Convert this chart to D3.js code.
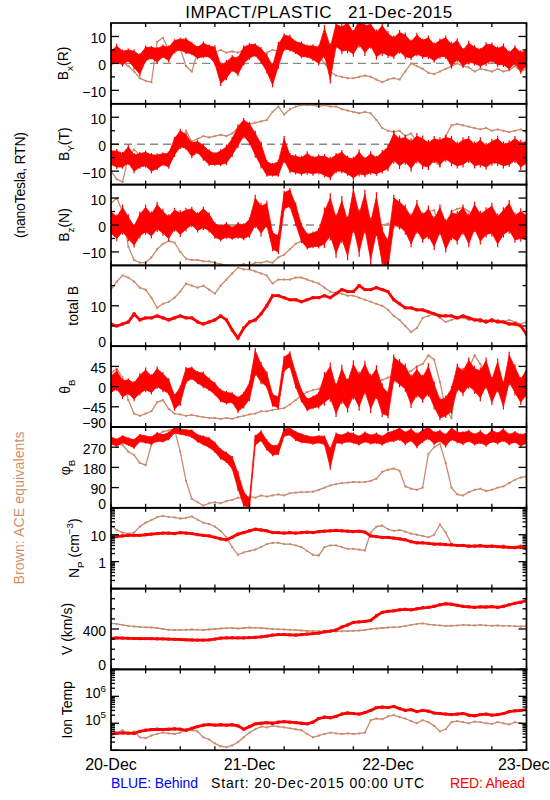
<!DOCTYPE html>
<html><head><meta charset="utf-8">
<script src="https://cdn.jsdelivr.net/npm/d3@7"></script>
<style>
body{margin:0;background:#fff}
svg{display:block}
text{font-family:"Liberation Sans",Arial,Helvetica,sans-serif;fill:#000}
</style>
</head><body>
<svg id="chart" width="550" height="800"></svg>
<script>
// ---------------- DATA (hourly samples, 20-Dec-2015 00:00 UTC .. 23-Dec-2015 00:00 UTC) ----------------
const startTime = "2015-12-20T00:00:00Z";
const hourOffsets = d3.range(0, 73);          // sample times, hours after start
const xTickHours = d3.range(0, 73, 6);         // 6-hour ticks
const dayLabels = ["20-Dec", "21-Dec", "22-Dec", "23-Dec"];

// Bx (R), nT  (Ahead: hourly centre value and half-spread of the scatter band)
const bxAhead = [2,3.5,2,3,1.5,-0.5,3.5,4,3,4.5, 3.5,6.5,7,6.5,5.5,4,5,4.5,3,-4, -2.5,0,-1,3,4.5,5,3,0,-4.5,3, 8,7.5,6,5,4.5,4,3,8,0,10.5, 9,10,7.5,11.5,9,10.5,7,9,7,6, 8,6.5,5,7,5.5,6,4,5.5,6,3, 5,2,4,3,2,3.5,4,2.5,3,1, 3,0.5,2];
const bxAheadSpread = [2.5,3,2.5,2,3,3.5,2.5,2,2.5,2, 2.5,2,2,2.5,2,2,2.5,2,3,3.5, 3,2.5,3,3,2.5,2,2.5,3,3.5,4, 2.5,2.5,2,2.5,2,2.5,3,5,6,4, 4.5,5,4,4.5,5,4,4.5,5,4,3.5, 3.5,4,3,3.5,3,3.5,3,3,3.5,4, 3.5,3,3.5,3,3,3.5,3,3,3.5,3, 3,3.5,3];
const bxAce   = [3,1.5,0.5,-1,-3,-5.5,-6.5,-7,8,9.5, 5,4,5.5,-1,-3,4,5,4.5,4,5, 4,4.5,4,5,4,3.5,3,4,5,4.5, 5,5.5,5,5,4.5,4,3,0,-3,-4.5, -5,-5.5,-5.5,-5,-4.5,-5,-6,-7,-6,-5.5, -6,-3,0,-1,-2,-3.5,-4,-3,-2,-1, 0,-1,-1.5,-3,-2,-2.5,-3,-2,-3,-2.5, -1,-3,-2];
// By (T), nT
const byAhead = [-5,-5.5,-6,-4,-7,-6,-5.5,-7,-6.5,-5.5, -6,-1,2,1,-2,-1,-3,-5,-5.5,-5, -4,-1,3,6,4,0,-4,-9,-9.5,-9, -2,-7,-7.5,-8,-7,-8,-7.5,-8,-9,-7, -6.5,-8,-9,-7,-8.5,-7,-8,-6.5,-5,-1, -3,-2,-4,-1.5,-3,-4,-2,-3,-1.5,-2.5, -4,-3,-2,-4,-3,-4.5,-3,-2.5,-4,-3.5, -2,-4,-3];
const byAheadSpread = [2.5,3,2.5,3,3,2.5,2.5,3,2.5,2, 2.5,3,3,2.5,2.5,2,2.5,2.5,2,2.5, 3,3,3.5,3,3.5,4,4,2.5,2,2.5, 4,3,3,3,3.5,3,3,3.5,3.5,3, 3.5,3,3.5,4,3,3.5,3,3.5,4,5, 5,4.5,5,4.5,5,4.5,4,4.5,4,4.5, 4,4.5,4,4,4.5,4,4,4.5,4,4, 4,4.5,4];
const byAce   = [-10,-13,-14,-5,-2,-4,-4.5,-4,-5,-4.5, -3,0,1,5,1,2,3,2.5,3,3.5, 3,4,6,7,7.5,8,8.5,9,12,14, 11,13,14,14.5,14.5,14.5,14,14.5,14,14, 13,12.5,12,11.5,12,11.5,9,6,5,4.5, 5,3,4,1,-2,-5,-6.5,-8,3,7, 7.5,7,6.5,6,5.5,6,5,5.5,5,4.5, 5,5.5,4.5];
// Bz (N), nT
const bzAhead = [1,-1,2,-1,-4,0,2,0,3,1, -1,2,0.5,2,3,1,2.5,1,-2,-3, -2,-3,-2,-2.5,-1,5,2,4,-6,-7, 9,10,4,-3,-6,-5.5,-5,-1,3,-4, 2,-5,6,-3,5,-6,4,-8,-11,5, 4,2,-2,3,-1,1,-3,2,-4,0, -1,2,-2,3,-1,1,2,-2,1,3, -1,0,-1];
const bzAheadSpread = [4,4,4.5,4,3.5,4,4.5,4,4.5,4, 4,3.5,4,3.5,3,3,3.5,3,2.5,2.5, 2.5,2,2.5,2.5,3,5,5,4,3,3, 3,3,3.5,3,2.5,2.5,3,6,7,6.5, 7,6.5,7,7,6.5,7,6.5,6,5,5, 4.5,4.5,5,5,4.5,5,5,4.5,5,4.5, 5,4.5,5,4.5,5,4.5,5,5,4.5,5, 4.5,5,4.5];
const bzAce   = [8,10,5,-8,-13,-14,-14,-12,-9,-7, -6,-6.5,-10,-12.5,-13,-13,-13.5,-13.5,-14,-14.5, -15,-15,-15,-14.5,-15,-14,-14,-13.5,-14,-12, -11,-9,-7,-6,-5,-5,-4,-3,-2.5,-2, -1,0,0.5,1,0,0.5,1,0,0.5,0, -1,1,0,2,4,5,5.5,-2,-6,5, 6,6.5,5,3,2,1,0.5,1,2,0, 1,-1,0];
// total B, nT
const btAhead = [5.5,5,5.5,6,8,6.5,7,7,7.5,7, 6.5,7,7.5,7,7,6,5.5,6,6.5,7.5, 6.5,4,2,4.5,6,6.5,8,10,12.5,12.5, 12,11.5,11.5,11,11.5,12,12,12.5,12,13, 14,13.5,13.5,15,14,14,14.5,14,13.5,11.5, 10.5,9.5,9.5,9,9,8.5,8,7.5,7.5,7.5, 7,7.5,7,6.5,6.5,6,6.5,6,6,5.5, 5.5,5,3];
const btAce   = [14,16,17.5,17,16,14.5,14,12,9.5,10.5, 11,12,13.5,15.5,15,14.5,15,14,13,15, 16.5,18,19.5,19,19,18.5,18,17.5,15.5,16.5, 16.5,16.5,17,17,16.5,16,15.5,14.5,13.5,13, 13,12.5,12.5,12,11.5,11,10.5,10,9,7.5, 6.5,5,3.5,4.5,7,7.5,8,7,6,6.5, 7,7,6.5,6.5,6,6.5,6,6.5,6,6.5, 6,5.5,6];
// theta_B, deg
const thAhead = [5,15,-5,0,-10,5,15,5,20,10, 0,-35,-20,25,30,20,15,5,-5,-20, -25,-25,-40,-30,-10,55,30,15,-30,-35, 50,60,15,-20,-40,-35,-30,-5,10,-30, 5,-20,15,-10,20,-15,10,-30,-40,40, 30,20,-10,10,-5,15,-20,-50,-45,-30, 20,10,30,15,5,30,-10,25,-20,40, 15,-10,10];
const thAheadSpread = [18,20,18,15,18,20,22,18,20,18, 15,15,18,15,12,12,15,12,12,12, 12,10,15,15,18,25,20,15,12,12, 15,15,15,12,12,12,15,30,35,30, 35,30,35,35,30,35,30,30,25,25, 25,25,30,28,25,30,25,20,20,25, 25,25,28,25,30,28,25,30,25,30, 28,25,28];
const thAce   = [30,40,20,-30,-60,-65,-60,-55,-35,-30, -50,-60,-62,-65,-63,-66,-68,-70,-70,-72, -70,-72,-68,-65,-62,-60,-55,-55,-52,-50, -48,-40,-30,-20,-12,-8,-5,0,2,0, 5,8,10,8,10,12,10,15,20,25, 22,30,35,45,50,70,60,10,-50,-70, 20,25,40,70,50,20,15,10,5,10, 0,5,10];
// phi_B, deg
const phAhead = [300,290,305,295,285,310,305,300,315,310, 320,345,340,335,330,310,300,290,270,240, 225,200,120,40,20,300,320,280,255,260, 335,340,320,310,305,300,305,300,220,310, 305,315,310,300,315,305,310,300,315,320, 330,310,325,300,320,335,310,320,300,330, 315,310,320,305,315,300,320,310,325,305, 315,300,310];
const phAheadSpread = [15,15,15,15,18,15,15,15,18,15, 15,12,12,12,15,15,18,20,20,20, 20,25,35,30,20,20,20,20,20,20, 15,15,18,18,15,15,15,18,40,20, 18,20,20,18,20,18,20,18,20,22, 25,25,25,28,25,25,25,22,25,25, 22,25,22,22,25,22,25,22,25,22, 22,25,22];
const phAce   = [290,285,280,250,235,200,190,280,320,340, 345,350,250,120,40,25,10,20,25,20, 30,35,45,40,50,45,55,50,55,60, 55,65,68,70,70,72,80,90,100,105, 110,112,115,114,115,120,130,160,170,175, 165,95,85,80,90,240,270,285,200,90, 60,55,70,80,85,75,80,90,95,110, 125,135,140];
// Np, cm^-3
const npAhead = [7.8,8.5,9,9.5,9.5,9.5,10,10.5,11,11.5, 11.5,11,12,11.5,11,10,9.5,9,8,7, 6.5,8,10.5,12,14,16,15,14,12,12, 11.5,12,11.5,12,12.5,12,13,13.5,14,14.5, 14,13.5,13,13.5,12.5,9,8.5,8,8,7.5, 7,6.5,5.5,5,5,4.8,4.5,4.5,4.3,4.2, 4,4,3.8,3.8,3.9,3.7,3.8,3.6,3.5,3.4, 3.3,3.5,3.2];
const npAce   = [22,15,12,11,12,20,28,35,45,50, 46,44,40,42,48,36,28,25,20,14, 8,3.5,1.8,2.2,2.5,2.8,3.5,4.5,5,5, 4.5,4.5,4,3.5,2.5,1.8,1.7,3.5,4,4, 3.5,3,3,2.8,2.6,12,20,22,16,14, 15,13,11,10,9,8,10,24,12,4.5, 4,3.8,3.5,3.6,4,3.8,3.5,3.7,4,3.5, 3.6,4,3.5];
// V, km/s
const vAhead = [308,312,310,308,306,305,305,304,303,302, 300,298,296,293,291,290,290,292,300,310, 312,313,312,312,315,318,322,330,340,345, 345,342,340,345,350,355,360,372,380,390, 420,440,465,470,475,485,530,565,575,580, 590,595,590,600,610,615,625,640,650,645, 635,625,620,615,620,618,622,615,625,640, 655,665,680];
const vAce   = [455,450,440,430,425,420,418,415,410,400, 392,390,390,392,395,392,390,395,400,405, 408,410,405,410,415,412,410,405,400,398, 395,392,390,385,380,380,378,378,377,376, 378,380,382,385,390,400,405,410,415,418, 420,430,440,450,455,445,440,435,430,432, 435,440,438,435,440,435,432,435,430,430, 428,425,430];
// Ion temperature, K
const tpAhead = [4.0e4,4.2e4,4.4e4,4.3e4,4.2e4,5.0e4,5.5e4,5.8e4,6.0e4,5.8e4, 6.0e4,6.2e4,6.0e4,5.5e4,6.5e4,7.5e4,8.5e4,9.0e4,8.5e4,8.8e4, 8.5e4,8.8e4,8.0e4,6.0e4,7.5e4,9.5e4,1.0e5,1.05e5,1.0e5,1.1e5, 1.15e5,1.1e5,1.05e5,1.0e5,9.5e4,1.1e5,1.5e5,1.7e5,1.6e5,1.8e5, 2.2e5,2.4e5,2.3e5,2.2e5,2.5e5,3.0e5,3.8e5,4.0e5,3.8e5,4.2e5, 3.5e5,3.0e5,3.2e5,2.7e5,3.0e5,2.8e5,2.4e5,2.3e5,2.2e5,2.1e5, 2.2e5,2.3e5,2.0e5,1.9e5,2.1e5,2.2e5,2.0e5,2.1e5,2.3e5,2.7e5, 2.9e5,3.0e5,3.2e5];
const tpAce   = [6.0e4,4.5e4,5.5e4,4.0e4,5.0e4,3.0e4,2.8e4,3.5e4,4.0e4,4.5e4, 4.2e4,4.0e4,4.5e4,6.0e4,5.5e4,5.0e4,3.0e4,2.5e4,1.8e4,1.4e4, 1.3e4,1.5e4,2.0e4,3.0e4,4.5e4,6.0e4,7.5e4,7.0e4,8.0e4,7.5e4, 7.0e4,6.5e4,6.0e4,5.5e4,4.0e4,3.0e4,3.5e4,4.0e4,4.5e4,4.2e4, 4.0e4,4.2e4,4.0e4,4.2e4,4.5e4,1.3e5,1.5e5,1.4e5,1.8e5,2.0e5, 1.7e5,1.5e5,1.2e5,1.0e5,1.3e5,1.1e5,8.0e4,5.0e4,6.0e4,1.1e5, 1.2e5,1.1e5,1.0e5,1.15e5,1.1e5,1.0e5,9.5e4,1.1e5,1.0e5,9.0e4, 1.1e5,1.0e5,8.0e4];

// axis tick values
const bCompTicks = [-10, 0, 10], bCompMinor = [-5, 5];
const btTicks = [0, 10], btMinor = [5, 15];
const thTicks = [-90, -45, 0, 45];
const phTicks = [0, 90, 180, 270];
const npTicks = [1, 10];
const vTicks = [0, 400], vMinor = [100, 200, 300, 500, 600, 700];
const tpTicks = [1e5, 1e6];

// ---------------- LAYOUT ----------------
const L = 111, R = 526.5, TOP = 23, PH = 80.8;
const RED = "#ff0000", BROWN = "#c98a6d";
const svg = d3.select("#chart");
const t0 = new Date(startTime).getTime();
const times = hourOffsets.map(h => new Date(t0 + h * 3600e3));
const x = d3.scaleUtc().domain([new Date(t0), new Date(t0 + 72 * 3600e3)]).range([L, R]);

const minus = v => String(v).replace("-", "\u2212");
const panels = [
  {ahead: bxAhead, spread: bxAheadSpread, ace: bxAce, domain: [-15, 15], major: bCompTicks, minor: bCompMinor, zero: true,
   title: [["B"], ["x", "sub"], ["(R)"]], tx: 68},
  {ahead: byAhead, spread: byAheadSpread, ace: byAce, domain: [-15, 15], major: bCompTicks, minor: bCompMinor, zero: true,
   title: [["B"], ["Y", "sub"], ["(T)"]], tx: 69},
  {ahead: bzAhead, spread: bzAheadSpread, ace: bzAce, domain: [-15, 15], major: bCompTicks, minor: bCompMinor, zero: true,
   title: [["B"], ["z", "sub"], ["(N)"]], tx: 69},
  {ahead: btAhead, ace: btAce, domain: [0, 20], major: btTicks, minor: btMinor,
   title: [["total B"]], tx: 78},
  {ahead: thAhead, spread: thAheadSpread, ace: thAce, domain: [-90, 90], major: thTicks, minor: [],
   title: [["\u03b8"], ["B", "sub"]], tx: 70},
  {ahead: phAhead, spread: phAheadSpread, ace: phAce, domain: [0, 360], major: phTicks, minor: [],
   title: [["\u03c6"], ["B", "sub"]], tx: 70},
  {ahead: npAhead, ace: npAce, domain: [0.1, 100], log: true, major: npTicks,
   title: [["N"], ["P", "sub"], [" (cm"], ["\u22123", "sup"], [")"]], tx: 79},
  {ahead: vAhead, ace: vAce, domain: [0, 800], major: vTicks, minor: vMinor,
   title: [["V (km/s)"]], tx: 72},
  {ahead: tpAhead, ace: tpAce, domain: [1e4, 1e7], log: true, major: tpTicks, exp: true,
   title: [["Ion Temp"]], tx: 72}
];

function rich(text, parts, fs) {
  let cur = 0;
  parts.forEach(([s, k]) => {
    const target = k === "sub" ? fs * 0.35 : k === "sup" ? -fs * 0.45 : 0;
    text.append("tspan").attr("dy", target - cur).attr("font-size", k ? fs * 0.7 : fs).text(s);
    cur = target;
  });
}

const defs = svg.append("defs");
svg.append("rect").attr("width", 550).attr("height", 800).attr("fill", "#fff");

panels.forEach((p, i) => {
  const y0 = TOP + i * PH, y1 = y0 + PH;
  const y = (p.log ? d3.scaleLog() : d3.scaleLinear()).domain(p.domain).range([y1, y0]);
  defs.append("clipPath").attr("id", "clip" + i).append("rect")
    .attr("x", L).attr("y", y0).attr("width", R - L).attr("height", PH);
  const g = svg.append("g").attr("clip-path", `url(#clip${i})`);

  if (p.zero) {
    g.append("line").attr("x1", L).attr("x2", R).attr("y1", y(0)).attr("y2", y(0))
      .attr("stroke", "#8a8a8a").attr("stroke-width", 1.4).attr("stroke-dasharray", "8,5");
  }
  const line = d3.line().x((d, j) => x(times[j])).y(d => y(d));
  // ACE (brown)
  g.append("path").datum(p.ace).attr("d", line).attr("fill", "none")
    .attr("stroke", BROWN).attr("stroke-width", 1.3);
  g.selectAll("rect.ace").data(p.ace).join("rect").attr("class", "ace")
    .attr("x", (d, j) => x(times[j]) - 1).attr("y", d => y(d) - 1)
    .attr("width", 2).attr("height", 2).attr("fill", BROWN);
  // Ahead (red)
  if (p.spread) {
    const area = d3.area().x((d, j) => x(times[j]))
      .y0((d, j) => y(d - p.spread[j])).y1((d, j) => y(d + p.spread[j]));
    g.append("path").datum(p.ahead).attr("d", area).attr("fill", RED).attr("stroke", RED).attr("stroke-width", 0.8);
    g.selectAll("line.sp").data(p.ahead).join("line").attr("class", "sp")
      .attr("x1", (d, j) => x(times[j])).attr("x2", (d, j) => x(times[j]))
      .attr("y1", (d, j) => y(d - p.spread[j] * 1.25)).attr("y2", (d, j) => y(d + p.spread[j] * 1.25))
      .attr("stroke", RED).attr("stroke-width", 1.2);
  } else {
    g.append("path").datum(p.ahead).attr("d", line).attr("fill", "none")
      .attr("stroke", RED).attr("stroke-width", 2.8);
    g.selectAll("rect.ah").data(p.ahead).join("rect").attr("class", "ah")
      .attr("x", (d, j) => x(times[j]) - 1.5).attr("y", d => y(d) - 1.5)
      .attr("width", 3).attr("height", 3).attr("fill", RED);
  }

  // frame
  const ax = svg.append("g").attr("stroke", "#000").attr("stroke-width", 1.3);
  svg.append("rect").attr("x", L).attr("y", y0).attr("width", R - L).attr("height", PH)
    .attr("fill", "none").attr("stroke", "#000").attr("stroke-width", 1.7);
  // x ticks
  xTickHours.forEach(h => {
    const xx = x(new Date(t0 + h * 3600e3));
    ax.append("line").attr("x1", xx).attr("x2", xx).attr("y1", y0).attr("y2", y0 + 4);
    ax.append("line").attr("x1", xx).attr("x2", xx).attr("y1", y1).attr("y2", y1 - 4);
  });
  // y ticks
  let majors = p.major.slice(), minors = (p.minor || []).slice();
  if (p.log) {
    const all = y.ticks();
    minors = all.filter(v => Math.abs(Math.log10(v) - Math.round(Math.log10(v))) > 1e-6);
    majors = all.filter(v => Math.abs(Math.log10(v) - Math.round(Math.log10(v))) <= 1e-6);
  }
  majors.forEach(v => {
    const yy = y(v);
    ax.append("line").attr("x1", L).attr("x2", L + 8).attr("y1", yy).attr("y2", yy);
    ax.append("line").attr("x1", R).attr("x2", R - 8).attr("y1", yy).attr("y2", yy);
  });
  minors.forEach(v => {
    const yy = y(v);
    ax.append("line").attr("x1", L).attr("x2", L + 4).attr("y1", yy).attr("y2", yy);
    ax.append("line").attr("x1", R).attr("x2", R - 4).attr("y1", yy).attr("y2", yy);
  });
  // tick labels
  p.major.forEach(v => {
    const atBottom = v === p.domain[0];
    const t = svg.append("text").attr("x", 106).attr("y", y(v) + (atBottom ? -4 : 1.5))
      .attr("dy", "0.36em").attr("text-anchor", "end").attr("font-size", 14);
    if (p.exp) rich(t, [["10"], [String(Math.round(Math.log10(v))), "sup"]], 14);
    else t.text(minus(v));
  });
  // panel title
  const tt = svg.append("text").attr("transform", `translate(${p.tx},${y0 + PH / 2}) rotate(-90)`)
    .attr("text-anchor", "middle").attr("font-size", 14);
  rich(tt, p.title, 14);
});

// bottom date labels
dayLabels.forEach((d, k) => {
  const last = k === dayLabels.length - 1;
  svg.append("text").attr("x", last ? 549.5 : x(new Date(t0 + k * 24 * 3600e3))).attr("y", 770)
    .attr("text-anchor", last ? "end" : "middle").attr("font-size", 16).text(d);
});

// title
svg.append("text").attr("x", (L + R) / 2).attr("y", 18).attr("text-anchor", "middle")
  .attr("font-size", 17).style("white-space", "pre")
  .attr("textLength", 267).attr("lengthAdjust", "spacing")
  .text("IMPACT/PLASTIC   21-Dec-2015");

// side labels
svg.append("text").attr("transform", "translate(25,185) rotate(-90)").attr("text-anchor", "middle")
  .attr("font-size", 14).attr("textLength", 106).text("(nanoTesla, RTN)");
svg.append("text").attr("transform", "translate(24,508) rotate(-90)").attr("text-anchor", "middle")
  .attr("font-size", 14).attr("textLength", 153).style("fill", "#d08f6c").text("Brown: ACE equivalents");

// footer
svg.append("text").attr("x", 111).attr("y", 788).attr("font-size", 14).attr("textLength", 87)
  .style("fill", "#0000ff").text("BLUE: Behind");
svg.append("text").attr("x", 211).attr("y", 788).attr("font-size", 14).attr("textLength", 213)
  .text("Start: 20-Dec-2015 00:00 UTC");
svg.append("text").attr("x", 450).attr("y", 788).attr("font-size", 14).attr("textLength", 75)
  .style("fill", RED).text("RED: Ahead");
</script>
</body></html>
